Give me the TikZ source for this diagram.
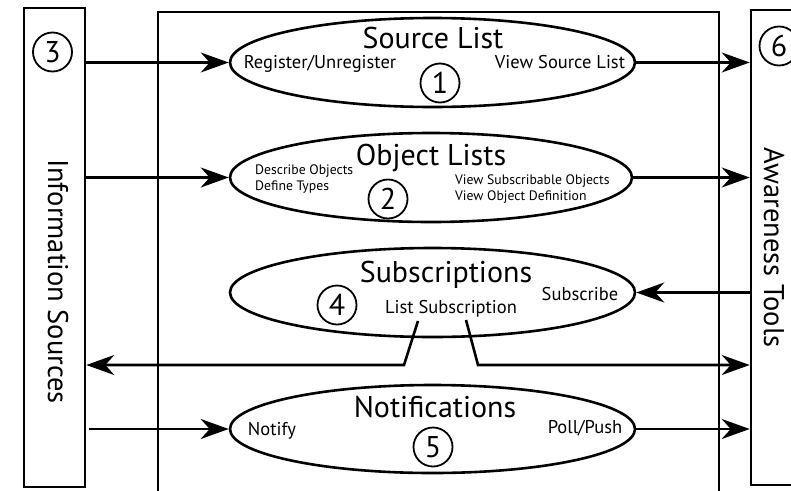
\documentclass[tikz,border=0pt]{standalone}
\usepackage{fontspec}
\setmainfont{PT Sans}
\usetikzlibrary{shapes.geometric,arrows.meta}
\tikzset{bar/.style={draw=black, line width=2.6pt, inner sep=0pt},
oval/.style={ellipse, draw=black, line width=2.6pt, minimum width=405pt, minimum height=89pt, inner sep=0pt},
num/.style={circle, draw=black, line width=1.8pt, minimum size=39pt, inner sep=0pt, font=\fontsize{30}{30}\selectfont},
flow/.style={line width=2.6pt, -{Stealth[length=28pt,width=20pt,inset=9pt]}},
title/.style={font=\fontsize{30}{30}\selectfont, inner sep=0pt, anchor=base},
op/.style={font=\fontsize{18.5}{18.5}\selectfont, inner sep=0pt, anchor=base},
opsmall/.style={font=\fontsize{13.7}{13.7}\selectfont, inner sep=0pt, anchor=base west},
side/.style={font=\fontsize{28.5}{28.5}\selectfont, inner sep=0pt, rotate=-90}}

\begin{document}
\begin{tikzpicture}[x=1pt,y=-1pt]
\useasboundingbox (0,0) rectangle (791,490);
\clip (0,0) rectangle (791,490);

% outer boxes
\node[bar, minimum width=61pt, minimum height=479pt] (infosrc) at (54.5,247.5) {};
\node[bar, minimum width=80pt, minimum height=475pt] (awtools) at (791,247.5) {};
\draw[bar] (158,495) -- (158,12) -- (719,12) -- (719,495);
\node[side] (infolbl) at (58,281.5) {Information Sources};
\node[side] (awlbl) at (774,247.5) {Awareness Tools};

% ellipses
\node[oval] (srclist) at (432.5,62.5) {};
\node[oval, minimum width=402pt] (objlists) at (431,177.5) {};
\node[oval] (subs) at (432.5,292.5) {};
\node[oval, minimum height=88pt] (notif) at (432.5,429) {};

%labels
\node[title] (srctitle) at (433,48) {Source List};
\node[op] (reg) at (320,68) {Register/Unregister};
\node[op] (viewsrc) at (560,68) {View Source List};

\node[title] (objtitle) at (431,165) {Object Lists};
\node[opsmall] (descobj) at (255,174) {Describe Objects};
\node[opsmall] (deftypes) at (255,190) {Define Types};
\node[opsmall] (viewsub) at (455,184) {View Subscribable Objects};
\node[opsmall] (viewdef) at (455,200) {View Object Definition};

\node[title] (substitle) at (446,282) {Subscriptions};
\node[op] (listsub) at (451,313) {List Subscription};
\node[op] (subscr) at (580,300) {Subscribe};

\node[title] (notiftitle) at (435,417) {Notifications};
\node[op] (notify) at (272,435) {Notify};
\node[op] (poll) at (585,433) {Poll/Push};

% numbers
\foreach \n/\x/\y in {1/440/83, 2/388/199, 3/52.5/52, 4/337/305, 5/433/447, 6/779/46}
     \node[num] (num\n) at (\x,\y) {\n};

% flows
\draw[flow] (infosrc.east |- srclist.west) -- (srclist.west);
\draw[flow] (infosrc.east |- objlists.west) -- (objlists.west);
\draw[flow] ([xshift=3pt]infosrc.east |- notif.west) -- (notif.west);
\draw[flow] (srclist.east) -- (awtools.west |- srclist.east);
\draw[flow] (objlists.east) -- (awtools.west |- objlists.east);
\draw[flow] (awtools.west |- subs.east) -- (subs.east);
\draw[flow] (notif.east) -- (awtools.west |- notif.east);

% list subscription
\coordinate (lsl) at (418,321);
\coordinate (lslb) at (404,365);
\coordinate (lsr) at (466,320);
\coordinate (lsrb) at (478,365);
\draw[flow] (lsl) -- (lslb) -- (infosrc.east |- lslb);
\draw[flow] (lsr) -- (lsrb) -- (awtools.west |- lsrb);

\end{tikzpicture}
\end{document}
